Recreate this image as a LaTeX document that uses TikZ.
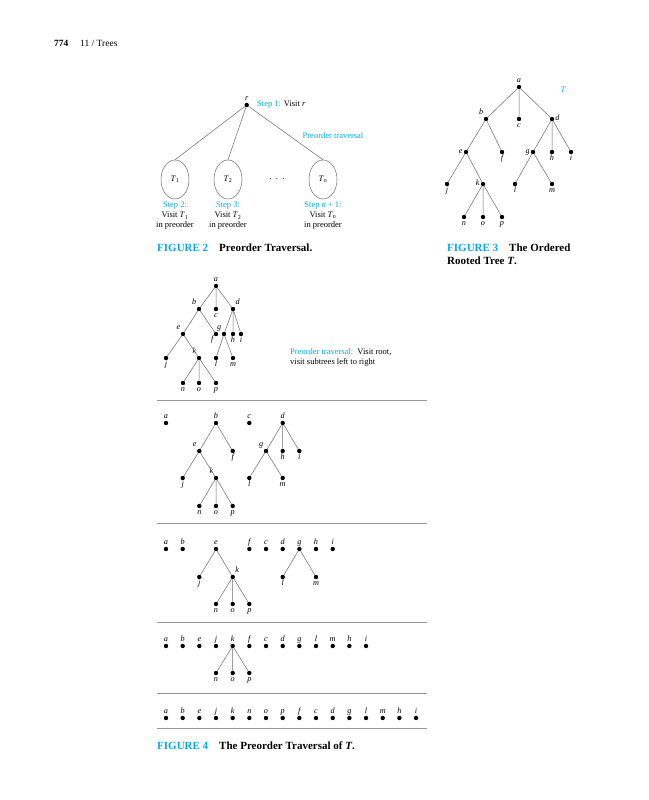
\documentclass[tikz,border=0pt]{standalone}
\usepackage{fontspec}
\setmainfont{Liberation Serif}
\usepackage{tikz}
\usetikzlibrary{positioning,shapes.geometric}
\definecolor{figcyan}{RGB}{0,170,230}
\definecolor{edgegray}{RGB}{105,105,105}
\definecolor{rulegray}{RGB}{150,150,150}

\begin{document}
\begin{tikzpicture}[x=1pt, y=-1pt,
  dot/.style={circle, fill=black, inner sep=0pt, minimum size=4.4pt},
  every label/.style={font=\fontsize{8.2}{9}\selectfont\itshape, inner sep=0.8pt,
    text height=5pt, text depth=1.5pt},
  edge/.style={draw=edgegray, line width=0.5pt},
  rule/.style={draw=rulegray, line width=0.7pt},
  txt/.style={font=\fontsize{8.5}{10}\selectfont, inner sep=0pt},
  figcap/.style={font=\fontsize{11}{13}\selectfont\bfseries, inner sep=0pt,
    align=left, anchor=west},
  subtree/.style={draw=edgegray, line width=0.5pt, ellipse, inner sep=0pt,
    minimum width=28pt, minimum height=39pt, font=\fontsize{8.5}{10}\selectfont}]
\useasboundingbox (0,0) rectangle (648,800);
% Running head
\node[txt, font=\fontsize{9.5}{11}\selectfont\bfseries, anchor=west] (pgnum) at (54,43) {774};
\node[txt, font=\fontsize{9.5}{11}\selectfont, anchor=west] (runhead) at (80,43) {11 / Trees};

% Figure 2: root and subtrees
\node[dot, label=above:r] (r) at (246.7,105) {};
\node[subtree] (t1) at (175,179.5) {\textit{T}\textsubscript{1}};
\node[subtree] (t2) at (228,179.5) {\textit{T}\textsubscript{2}};
\node[subtree] (tn) at (323,179.5) {\textit{T}\textsubscript{\textit{n}}};
\node[txt] (dots) at (277,179) {.\ \ .\ \ .};
\draw[edge] (r) -- (t1.north);
\draw[edge] (r) -- (t2.north);
\draw[edge] (r) -- (tn.north);
\node[txt, anchor=west] (step1) at (257,105) {{\color{figcyan}Step 1:} Visit \textit{r}};
\node[txt, text=figcyan] (ptrav) at (333,136) {Preorder traversal};
\node[txt, align=center] (step2) at (175,216)
  {{\color{figcyan}Step 2:}\\Visit \textit{T}\textsubscript{1}\\in preorder};
\node[txt, align=center] (step3) at (228,216)
  {{\color{figcyan}Step 3:}\\Visit \textit{T}\textsubscript{2}\\in preorder};
\node[txt, align=center] (stepn) at (323,216)
  {{\color{figcyan}Step \textit{n} + 1:}\\Visit \textit{T}\textsubscript{\textit{n}}\\in preorder};
\node[figcap] (cap2) at (157,248)
  {{\color{figcyan}FIGURE 2}\hspace{11pt}Preorder Traversal.};

% Figure 3: the ordered rooted tree T
\node[font=\fontsize{8.5}{10}\selectfont\itshape, text=figcyan] (tname) at (563,90) {T};
\node[dot, label=above:a]      (a3) at (519,87) {};
\node[dot, label=above left:b] (b3) at (486,119) {};
\node[dot, label=below:c]      (c3) at (519,119) {};
\node[dot, label=right:d]      (d3) at (552,119) {};
\node[dot, label=left:e]       (e3) at (466,152) {};
\node[dot, label=below:f]      (f3) at (502,152) {};
\node[dot, label=left:g]       (g3) at (533,152) {};
\node[dot, label=below:h]      (h3) at (552,152) {};
\node[dot, label=below:i]      (i3) at (571,152) {};
\node[dot, label=below:j]      (j3) at (447,184) {};
\node[dot, label=left:k]       (k3) at (483,184) {};
\node[dot, label=below:l]      (l3) at (515,184) {};
\node[dot, label=below:m]      (m3) at (552,184) {};
\node[dot, label=below:n]      (n3) at (464,217) {};
\node[dot, label=below:o]      (o3) at (483,217) {};
\node[dot, label=below:p]      (p3) at (502,217) {};
\draw[edge] (a3) -- (b3) (a3) -- (c3) (a3) -- (d3)
  (b3) -- (e3) (b3) -- (f3) (d3) -- (g3) (d3) -- (h3) (d3) -- (i3)
  (e3) -- (j3) (e3) -- (k3) (g3) -- (l3) (g3) -- (m3)
  (k3) -- (n3) (k3) -- (o3) (k3) -- (p3);
\node[figcap] (cap3) at (447,254.5)
  {{\color{figcyan}FIGURE 3}\hspace{11pt}The Ordered\\Rooted Tree \textit{T}.};

% Figure 4: the tree again
\node[dot, label=above:a]       (a4) at (216,286) {};
\node[dot, label=above left:b]  (b4) at (199,309) {};
\node[dot, label=below:c]       (c4) at (216,309) {};
\node[dot, label=above right:d] (d4) at (233,309) {};
\node[dot, label=above left:e]  (e4) at (183,334) {};
\node[dot, label=below left:f]  (f4) at (216,334) {};
\node[dot, label=above left:g]  (g4) at (224,334) {};
\node[dot, label=below:h]       (h4) at (233,334) {};
\node[dot, label=below:i]       (i4) at (241,334) {};
\node[dot, label=below:j]       (j4) at (166,358) {};
\node[dot, label=above left:k]  (k4) at (199,358) {};
\node[dot, label=below:l]       (l4) at (216,358) {};
\node[dot, label=below:m]       (m4) at (233,358) {};
\node[dot, label=below:n]       (n4) at (183,383) {};
\node[dot, label=below:o]       (o4) at (199,383) {};
\node[dot, label=below:p]       (p4) at (216,383) {};
\draw[edge] (a4) -- (b4) (a4) -- (c4) (a4) -- (d4)
  (b4) -- (e4) (b4) -- (f4) (d4) -- (g4) (d4) -- (h4) (d4) -- (i4)
  (e4) -- (j4) (e4) -- (k4) (g4) -- (l4) (g4) -- (m4)
  (k4) -- (n4) (k4) -- (o4) (k4) -- (p4);
\node[txt, align=left, anchor=west] (rule4) at (290,357)
  {{\color{figcyan}Preorder traversal:}\enspace Visit root,\\visit subtrees left to right};

% Separating rules
\draw[rule] (157,400) -- (427,400);
\draw[rule] (157,523) -- (427,523);
\draw[rule] (157,622) -- (427,622);
\draw[rule] (157,693) -- (427,693);
\draw[rule] (157,728) -- (427,728);

% Row 1: a, then subtrees of b, c, d
\node[dot, label=above:a]      (r1a) at (166,423) {};
\node[dot, label=above:b]      (r1b) at (216,423) {};
\node[dot, label=above:c]      (r1c) at (249.3,423) {};
\node[dot, label=above:d]      (r1d) at (282.7,423) {};
\node[dot, label=above left:e] (r1e) at (199.3,451) {};
\node[dot, label=below:f]      (r1f) at (232.7,451) {};
\node[dot, label=above left:g] (r1g) at (266,451) {};
\node[dot, label=below:h]      (r1h) at (282.7,451) {};
\node[dot, label=below:i]      (r1i) at (299.3,451) {};
\node[dot, label=below:j]      (r1j) at (182.7,478) {};
\node[dot, label=above left:k] (r1k) at (216,478) {};
\node[dot, label=below:l]      (r1l) at (249.3,478) {};
\node[dot, label=below:m]      (r1m) at (282.7,478) {};
\node[dot, label=below:n]      (r1n) at (199.3,506) {};
\node[dot, label=below:o]      (r1o) at (216,506) {};
\node[dot, label=below:p]      (r1p) at (232.7,506) {};
\draw[edge] (r1b) -- (r1e) (r1b) -- (r1f) (r1d) -- (r1g) (r1d) -- (r1h) (r1d) -- (r1i)
  (r1e) -- (r1j) (r1e) -- (r1k) (r1g) -- (r1l) (r1g) -- (r1m)
  (r1k) -- (r1n) (r1k) -- (r1o) (r1k) -- (r1p);

% Row 2
\foreach \v/\i in {a/0,b/1,e/3,f/5,c/6,d/7,g/8,h/9,i/10}
  \node[dot, label=above:\v] (r2\v) at ({166+16.67*\i},549) {};
\node[dot, label=below:j]       (r2j) at (199.3,577) {};
\node[dot, label=above right:k] (r2k) at (232.7,577) {};
\node[dot, label=below:l]       (r2l) at (282.7,577) {};
\node[dot, label=below:m]       (r2m) at (316,577) {};
\node[dot, label=below:n]       (r2n) at (216,604) {};
\node[dot, label=below:o]       (r2o) at (232.7,604) {};
\node[dot, label=below:p]       (r2p) at (249.3,604) {};
\draw[edge] (r2e) -- (r2j) (r2e) -- (r2k) (r2g) -- (r2l) (r2g) -- (r2m)
  (r2k) -- (r2n) (r2k) -- (r2o) (r2k) -- (r2p);

% Row 3
\foreach \v [count=\i from 0] in {a,b,e,j,k,f,c,d,g,l,m,h,i}
  \node[dot, label=above:\v] (r3\v) at ({166+16.67*\i},646) {};
\node[dot, label=below:n] (r3n) at (216,673) {};
\node[dot, label=below:o] (r3o) at (232.7,673) {};
\node[dot, label=below:p] (r3p) at (249.3,673) {};
\draw[edge] (r3k) -- (r3n) (r3k) -- (r3o) (r3k) -- (r3p);

% Row 4: the preorder
\foreach \v [count=\i from 0] in {a,b,e,j,k,n,o,p,f,c,d,g,l,m,h,i}
  \node[dot, label=above:\v] (r4\v) at ({166+16.67*\i},718) {};

\node[figcap] (cap4) at (157,746)
  {{\color{figcyan}FIGURE 4}\hspace{11pt}The Preorder Traversal of \textit{T}.};
\end{tikzpicture}
\end{document}
